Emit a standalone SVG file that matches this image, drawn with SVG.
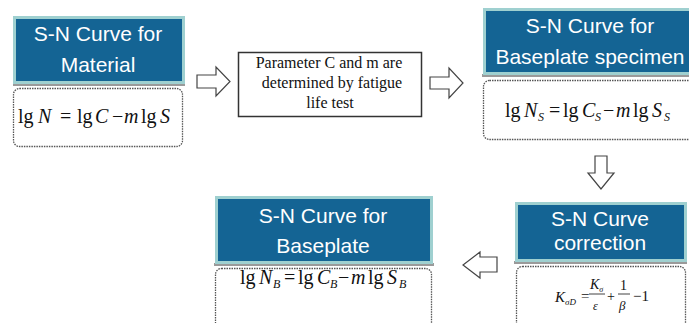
<svg xmlns="http://www.w3.org/2000/svg" width="689" height="323" viewBox="0 0 689 323">
<style>
.hdr{fill:#146494;stroke:#9fd0d0;stroke-width:3}
.shadow{fill:#9a9a9a}
.ht{font-family:"Liberation Sans",Arial,sans-serif;font-size:21px;fill:#ffffff;text-anchor:middle}
.dash{fill:#ffffff;stroke:#555555;stroke-width:1.3;stroke-dasharray:1.5 1}
.f{font-family:"Liberation Serif","DejaVu Serif","Times New Roman",serif;font-size:20px;fill:#111111}
.i{font-style:italic}
.sub{font-size:12px;font-style:italic}
.mt{font-family:"Liberation Serif","DejaVu Serif","Times New Roman",serif;font-size:16px;fill:#111111;text-anchor:middle}
.arr{fill:#ffffff;stroke:#444444;stroke-width:1.2;stroke-linejoin:miter}
.kf{font-family:"Liberation Serif","DejaVu Serif","Times New Roman",serif;fill:#111111}
</style>
<rect width="689" height="323" fill="#ffffff"/>
<g id="material">
<rect class="shadow" x="13" y="83" width="172" height="3"/>
<rect class="hdr" x="14.5" y="17.5" width="169" height="65"/>
<text class="ht" x="98" y="41">S-N Curve for</text>
<text class="ht" x="98" y="72">Material</text>
<rect class="dash" x="13.5" y="88.5" width="169" height="58" rx="6"/>
<text class="f" y="123"><tspan x="18">lg</tspan><tspan x="38" class="i">N</tspan><tspan x="60">=</tspan><tspan x="77">lg</tspan><tspan x="95" class="i">C</tspan><tspan x="112">−</tspan><tspan x="124" class="i">m</tspan><tspan x="141">lg</tspan><tspan x="160" class="i">S</tspan></text>
</g>
<g id="param">
<rect x="238.5" y="52.5" width="183" height="64" fill="#ffffff" stroke="#333333" stroke-width="1.5"/>
<text class="mt" x="329" y="68">Parameter C and m are</text>
<text class="mt" x="332" y="88">determined by fatigue</text>
<text class="mt" x="330" y="108">life test</text>
</g>
<g id="specimen">
<rect class="shadow" x="482" y="74" width="210" height="3"/>
<rect class="hdr" x="484.5" y="9.5" width="210" height="64"/>
<text class="ht" x="590" y="33">S-N Curve for</text>
<text class="ht" x="590" y="64">Baseplate specimen</text>
<rect class="dash" x="483.5" y="80.5" width="215" height="59" rx="6"/>
<text class="f" y="117"><tspan x="505">lg</tspan><tspan x="524" class="i">N</tspan><tspan x="538" dy="4" class="sub">S</tspan><tspan x="549" dy="-4">=</tspan><tspan x="563">lg</tspan><tspan x="582" class="i">C</tspan><tspan x="595" dy="4" class="sub">S</tspan><tspan x="603" dy="-4">−</tspan><tspan x="616" class="i">m</tspan><tspan x="633">lg</tspan><tspan x="652" class="i">S</tspan><tspan x="664" dy="4" class="sub">S</tspan></text>
</g>
<g id="correction">
<rect class="shadow" x="514" y="261" width="173" height="3"/>
<rect class="hdr" x="516.5" y="203.5" width="169" height="57"/>
<text class="ht" x="600" y="226">S-N Curve</text>
<text class="ht" x="600" y="250">correction</text>
<rect class="dash" x="516.5" y="266.5" width="169" height="62" rx="6"/>
<g class="kf">
<text x="555" y="302" font-size="15" font-style="italic">K<tspan font-size="9" dy="3">σD</tspan></text>
<text x="581" y="301" font-size="15">=</text>
<text x="590" y="289" font-size="14" font-style="italic">K<tspan font-size="8" dy="3">σ</tspan></text>
<line x1="589" y1="294" x2="605" y2="294" stroke="#111" stroke-width="0.8"/>
<text x="593" y="310" font-size="12" font-style="italic">ε</text>
<text x="607" y="301" font-size="14">+</text>
<text x="620" y="290" font-size="14">1</text>
<line x1="618" y1="294" x2="630" y2="294" stroke="#111" stroke-width="0.8"/>
<text x="619" y="310" font-size="13" font-style="italic">β</text>
<text x="633" y="301" font-size="15">−1</text>
</g>
</g>
<g id="baseplate">
<rect class="shadow" x="214" y="263" width="220" height="3"/>
<rect class="hdr" x="216.5" y="197.5" width="215" height="65"/>
<text class="ht" x="323" y="223">S-N Curve for</text>
<text class="ht" x="323" y="253">Baseplate</text>
<rect class="dash" x="215.5" y="268.5" width="216" height="60" rx="6"/>
<text class="f" y="284"><tspan x="240">lg</tspan><tspan x="259" class="i">N</tspan><tspan x="273" dy="4" class="sub">B</tspan><tspan x="284" dy="-4">=</tspan><tspan x="298">lg</tspan><tspan x="317" class="i">C</tspan><tspan x="330" dy="4" class="sub">B</tspan><tspan x="338" dy="-4">−</tspan><tspan x="351" class="i">m</tspan><tspan x="368">lg</tspan><tspan x="387" class="i">S</tspan><tspan x="399" dy="4" class="sub">B</tspan></text>
</g>
<g id="connectors">
<polygon class="arr" points="197,75 216,75 216,67 230,81.5 216,96 216,88 197,88"/>
<polygon class="arr" points="430,77 449,77 449,68 463,83 449,98 449,89 430,89"/>
<polygon class="arr" points="595,156 607,156 607,173 614,173 601,189 588,173 595,173"/>
<polygon class="arr" points="497,257 480,257 480,252 463,265 480,278 480,272 497,272"/>
</g>
</svg>
